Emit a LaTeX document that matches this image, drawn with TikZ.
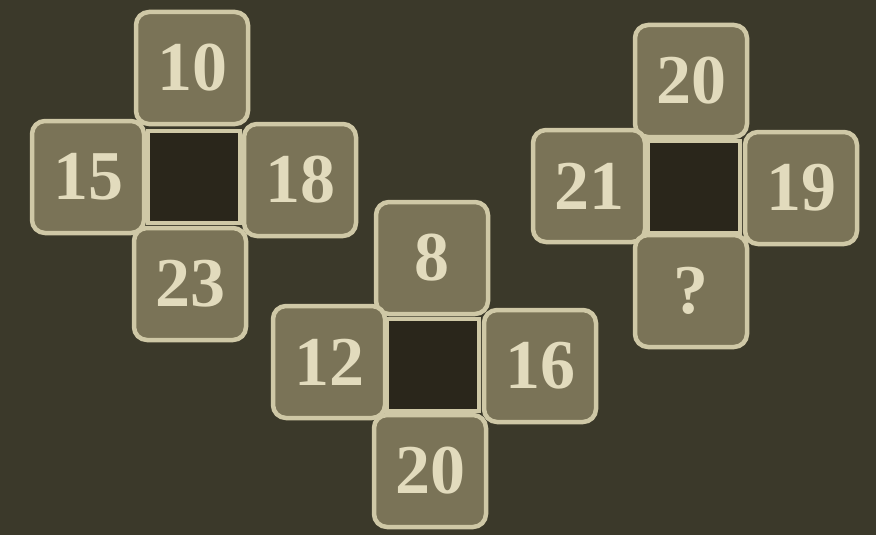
\documentclass[tikz,border=0pt]{standalone}
\usepackage{fontspec}
\setmainfont{Liberation Serif}
\definecolor{bg}{HTML}{3B392A}
\definecolor{boxfill}{HTML}{7A7357}
\definecolor{boxline}{HTML}{CFC8A6}
\definecolor{numcol}{HTML}{E2DBBD}
\definecolor{hole}{HTML}{2A261B}
\tikzset{
  cell/.style={draw=boxline, fill=boxfill, line width=4.5pt, rounded corners=13pt,
    minimum width=112pt, minimum height=112pt, inner sep=0pt,
    text=numcol, font=\fontsize{70}{72}\selectfont\bfseries},
  holebox/.style={draw=boxline, fill=hole, line width=4.5pt,
    minimum width=92pt, minimum height=92pt, inner sep=0pt}
}
\begin{document}
\begin{tikzpicture}[x=1pt,y=-1pt]
\fill[bg] (0,0) rectangle (876,535);
\useasboundingbox (0,0) rectangle (876,535);
% cross 1
\node[holebox] (h1) at (194,177) {};
\node[cell] (a1) at (192,68) {10};
\node[cell] (a2) at (88,177) {15};
\node[cell] (a3) at (300,180) {18};
\node[cell] (a4) at (190,284) {23};
% cross 2
\node[holebox] (h2) at (433,365) {};
\node[cell] (b1) at (432,258) {8};
\node[cell] (b2) at (329,362) {12};
\node[cell] (b3) at (540,366) {16};
\node[cell] (b4) at (430,471) {20};
% cross 3
\node[holebox] (h3) at (694,187) {};
\node[cell] (c1) at (691,81) {20};
\node[cell] (c2) at (589,186) {21};
\node[cell] (c3) at (801,188) {19};
\node[cell] (c4) at (691,291) {?};
\end{tikzpicture}
\end{document}
